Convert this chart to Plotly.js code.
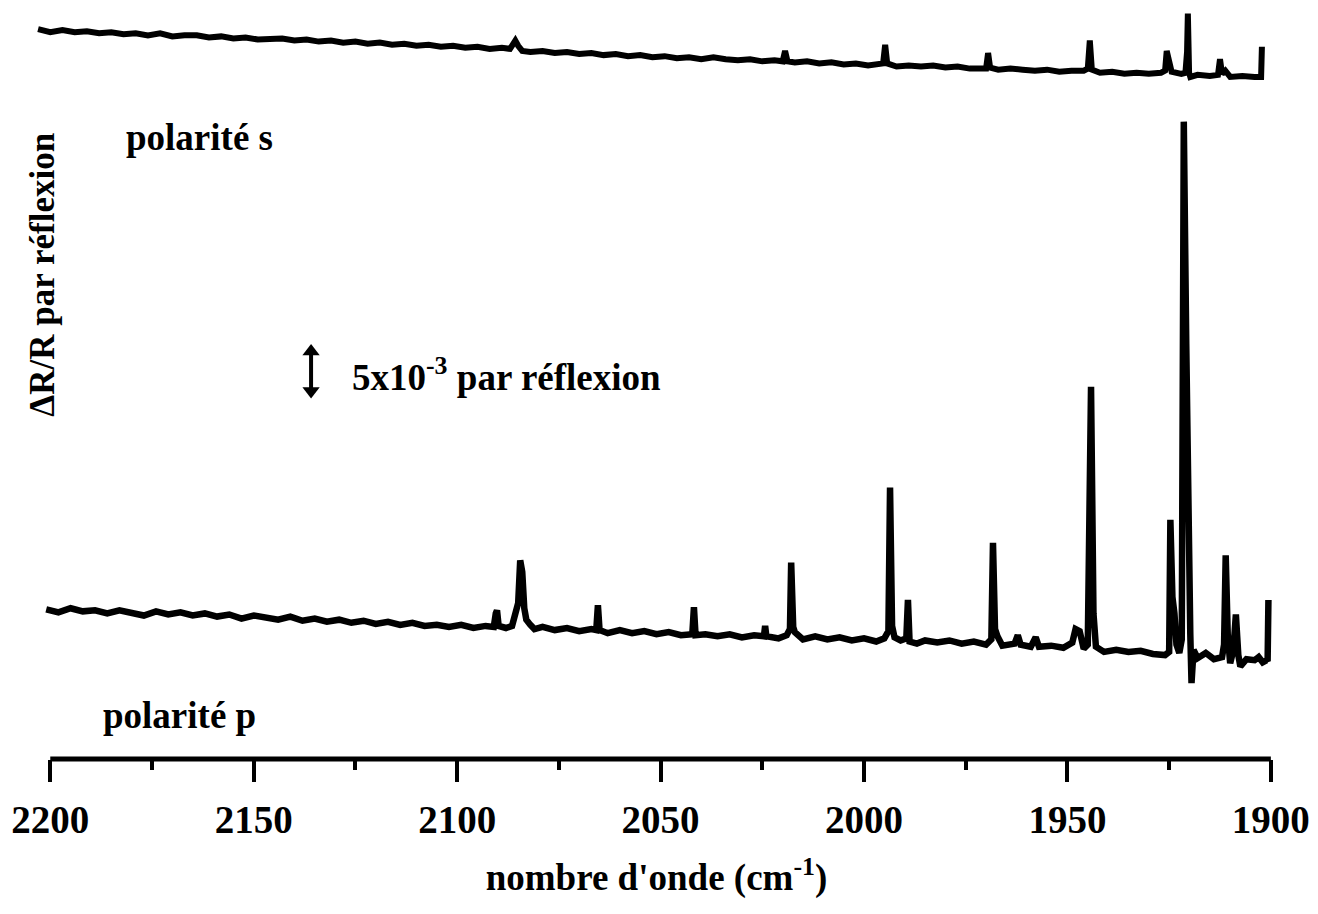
<!DOCTYPE html>
<html>
<head>
<meta charset="utf-8">
<script src="https://cdn.plot.ly/plotly-3.0.1.min.js"></script>
<style>
  html, body { margin: 0; padding: 0; background: #ffffff; }
  #chart { width: 1318px; height: 914px; }
</style>
</head>
<body>
<div id="chart"></div>
<script>
// ---- Data (ΔR/R in units of 1e-3, traces vertically offset as in the figure) ----
const sWavenumber = [2203,2200,2197,2194,2191,2188,2185,2182,2179,2176,2173,2170,2167,2164,2161,2158,2155,2152,2149,2146,2143,2140,2137,2134,2131,2128,2125,2122,2119,2116,2113,2110,2107,2104,2101,2098,2095,2092,2089,2087,2086.3,2085.7,2085,2084,2082,2079,2076,2073,2070,2067,2064,2061,2058,2055,2052,2049,2046,2043,2040,2037,2034,2031,2028,2025,2022,2020,2019.4,2018.8,2017,2014,2011,2008,2005,2002,1999,1997,1995.3,1994.8,1994.3,1992,1989,1986,1983,1980,1977,1974,1971,1970,1969.5,1969,1967,1964,1961,1958,1955,1952,1949,1946,1945,1944.5,1944,1942,1939,1936,1933,1930,1927,1926,1925.6,1925,1924.4,1922,1921,1920.6,1920.4,1920.1,1919.8,1918,1915,1913,1912.5,1912,1911.2,1910,1907,1904,1902.4,1902.2];
const sSignal = [70.2,69.9,70.1,69.9,70.0,69.8,69.9,69.7,69.8,69.6,69.8,69.5,69.6,69.6,69.4,69.5,69.3,69.4,69.2,69.3,69.3,69.1,69.2,69.0,69.1,68.9,69.0,68.8,68.9,68.7,68.8,68.6,68.7,68.5,68.6,68.4,68.5,68.3,68.4,68.3,68.7,69.1,68.6,68.1,68.0,68.1,67.9,68.0,67.8,67.9,67.7,67.8,67.6,67.7,67.5,67.6,67.4,67.5,67.3,67.5,67.3,67.2,67.3,67.1,67.2,67.1,68.1,67.1,67.0,67.1,66.9,67.0,66.8,66.9,66.7,66.8,66.9,68.7,66.9,66.6,66.7,66.6,66.7,66.5,66.6,66.4,66.5,66.4,67.9,66.5,66.3,66.4,66.3,66.2,66.3,66.1,66.2,66.2,66.4,69.1,66.3,66.0,66.1,65.9,66.0,65.9,66.0,66.2,68.1,67.2,66.1,65.9,66.0,68.0,71.7,66.0,65.6,65.8,65.7,65.8,67.3,65.9,66.2,65.6,65.7,65.6,65.6,68.5];

const pWavenumber = [2201,2198,2195,2192,2189,2186,2183,2180,2177,2174,2171,2168,2165,2162,2159,2156,2153,2150,2147,2144,2141,2138,2135,2132,2129,2126,2123,2120,2117,2114,2111,2108,2105,2102,2099,2096,2093,2091,2090.5,2090.2,2089.8,2088,2086.5,2085,2084.5,2084,2083.5,2083,2082,2081,2079,2076,2073,2070,2067,2065.8,2065.4,2065,2063,2060,2057,2054,2051,2048,2045,2042.2,2041.8,2041.4,2039,2036,2033,2030,2027,2024.6,2024.3,2024,2021,2019,2018.2,2017.9,2017.4,2017,2015,2012,2009,2006,2003,2000,1997,1995,1994,1993.6,1993.1,1992.5,1991,1989.6,1989.2,1988.8,1987,1985,1982,1979,1976,1973,1970,1968.7,1968.3,1967.8,1967.2,1966,1963,1962.2,1961.5,1959,1957.8,1957,1954,1951,1948.8,1948,1947,1946,1945,1944.6,1944.2,1943.6,1943,1941,1938,1935,1932,1929,1926,1925,1924.7,1924.2,1923.7,1923.2,1922.5,1921.9,1921.4,1920.8,1920.2,1919.8,1919.5,1919,1918,1916,1914,1912,1911.5,1911.1,1910.6,1910,1909.2,1908.6,1908,1907.5,1906,1904,1903,1902,1901,1900.8,1900.6];
const pSignal = [14.4,14.1,14.5,14.2,14.3,14.0,14.3,14.1,13.8,14.2,13.9,14.1,13.8,14.0,13.7,13.9,13.5,13.8,13.6,13.4,13.7,13.3,13.5,13.2,13.4,13.1,13.3,13.0,13.2,12.9,13.1,12.8,12.9,12.7,12.9,12.6,12.8,12.7,14.0,14.3,12.8,12.6,12.8,15.0,19.1,18.0,14.5,13.4,12.9,12.5,12.7,12.4,12.6,12.3,12.5,12.4,14.8,12.4,12.1,12.4,12.1,12.3,12.0,12.2,11.9,12.0,14.6,11.9,12.0,11.8,12.0,11.7,11.9,11.8,12.8,11.8,11.6,11.9,12.5,18.9,12.7,12.2,11.5,11.8,11.5,11.7,11.4,11.6,11.3,11.6,12.3,26.1,12.8,11.7,11.4,11.6,15.3,11.3,11.1,11.4,11.2,11.4,11.1,11.3,11.0,11.5,20.8,12.5,11.8,10.9,11.1,11.9,11.0,10.8,11.7,10.8,10.9,10.7,11.2,12.5,12.3,10.6,11.0,20.0,35.8,14.0,10.8,10.3,10.5,10.3,10.4,10.1,10.0,10.3,23.0,15.6,14.0,11.0,10.2,11.5,61.3,40.0,18.0,12.0,7.3,10.5,9.7,10.2,9.6,9.8,11.0,19.6,12.0,9.2,10.5,13.9,10.0,8.9,9.6,9.5,9.8,9.3,9.5,9.4,15.3];

const tickValues = [2200, 2150, 2100, 2050, 2000, 1950, 1900];
const tickLabels = ['2200', '2150', '2100', '2050', '2000', '1950', '1900'];
const minorTickValues = [2175, 2125, 2075, 2025, 1975, 1925];
const scaleBarLength = 5; // 5x10^-3 par réflexion
const scaleBarWavenumber = 2135.9;
const scaleBarBottom = 35.4;

const FONT = '"Liberation Serif", "Times New Roman", Times, serif';

const traces = [
  { x: sWavenumber, y: sSignal, type: 'scatter', mode: 'lines', name: 'polarité s',
    line: { color: '#000000', width: 6 }, hoverinfo: 'skip' },
  { x: pWavenumber, y: pSignal, type: 'scatter', mode: 'lines', name: 'polarité p',
    line: { color: '#000000', width: 6.5 }, hoverinfo: 'skip' },
  { x: [scaleBarWavenumber, scaleBarWavenumber], y: [scaleBarBottom, scaleBarBottom + scaleBarLength - 1.2],
    type: 'scatter', mode: 'lines+markers', name: 'échelle',
    line: { color: '#000000', width: 4 },
    marker: { symbol: ['triangle-down', 'triangle-up'], size: 15, color: '#000000', line: { width: 0 } },
    hoverinfo: 'skip' }
];

const layout = {
  width: 1318, height: 914,
  margin: { l: 34, r: 39, t: 0, b: 155 },
  paper_bgcolor: '#ffffff', plot_bgcolor: '#ffffff',
  showlegend: false,
  font: { family: FONT, color: '#000000', size: 37, weight: 'bold' },
  xaxis: {
    range: [2204, 1898],
    showgrid: false, zeroline: false, showline: false,
    tickmode: 'array', tickvals: tickValues, ticktext: tickLabels,
    ticks: 'outside', ticklen: 22, tickwidth: 4, tickcolor: '#000000',
    ticklabelstandoff: 4,
    tickfont: { family: FONT, size: 39, color: '#000000', weight: 'bold' },
    minor: { tickmode: 'array', tickvals: minorTickValues, ticks: 'outside', ticklen: 10, tickwidth: 4, tickcolor: '#000000', showgrid: false },
    title: { text: "nombre d'onde (cm<sup>-1</sup>)", standoff: 24,
             font: { family: FONT, size: 37, color: '#000000', weight: 'bold' } }
  },
  yaxis: {
    range: [0, 73],
    visible: false, showgrid: false, zeroline: false
  },
  shapes: [
    { type: 'line', xref: 'x', yref: 'paper', x0: 2200, x1: 1900, y0: 0, y1: 0,
      line: { color: '#000000', width: 5 } }
  ],
  annotations: [
    { xref: 'x', yref: 'y', x: 2163.4, y: 59.8, text: 'polarité s', showarrow: false,
      font: { family: FONT, size: 37, color: '#000000', weight: 'bold' } },
    { xref: 'x', yref: 'y', x: 2168.3, y: 4.2, text: 'polarité p', showarrow: false,
      font: { family: FONT, size: 37, color: '#000000', weight: 'bold' } },
    { xref: 'x', yref: 'y', x: 2126.3, y: 37.0, xanchor: 'left', text: '5x10<sup>-3</sup> par réflexion', showarrow: false,
      font: { family: FONT, size: 37, color: '#000000', weight: 'bold' } },
    { xref: 'x', yref: 'y', x: 2202.0, y: 46.6, text: 'ΔR/R par réflexion', textangle: -90, showarrow: false,
      font: { family: FONT, size: 35, color: '#000000', weight: 'bold' } }
  ]
};

Plotly.newPlot('chart', traces, layout, { staticPlot: true, displayModeBar: false });
</script>
</body>
</html>
